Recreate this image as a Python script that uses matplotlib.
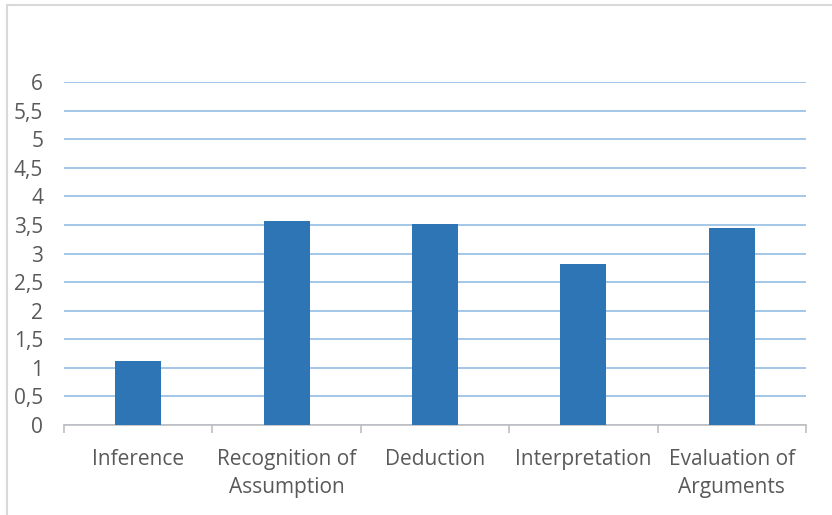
import matplotlib.pyplot as plt
from matplotlib.patches import Rectangle
from matplotlib.ticker import FuncFormatter, MultipleLocator

categories = ['Inference', 'Recognition of\nAssumption', 'Deduction', 'Interpretation', 'Evaluation of\nArguments']
scores = [1.12, 3.57, 3.52, 2.82, 3.45]

plt.rcParams['font.family'] = ['Open Sans', 'DejaVu Sans']

fig = plt.figure(figsize=(8.32, 5.15), dpi=100)
# chart border (cut off at right and bottom)
fig.patches.append(Rectangle((7 / 832, -0.1), 1.2, 1.1 - 5 / 515, transform=fig.transFigure,
                             fill=False, edgecolor='#d9d9d9', linewidth=1.5))

ax = fig.add_axes([64 / 832, 1 - 425 / 515, 742 / 832, 343 / 515])
x = range(len(categories))
ax.bar(x, scores, width=0.31, color='#2e75b6', zorder=3)

ax.set_xlim(-0.5, len(categories) - 0.5)
ax.set_ylim(0, 6)
ax.yaxis.set_major_locator(MultipleLocator(0.5))
ax.yaxis.set_major_formatter(FuncFormatter(lambda v, p: ('%g' % v).replace('.', ',')))
ax.grid(axis='y', color='#9dc3e6', linewidth=1.3, zorder=0)

for s in ['top', 'right', 'left']:
    ax.spines[s].set_visible(False)
ax.spines['bottom'].set_color('#bfbfbf')
ax.spines['bottom'].set_linewidth(1.2)

ax.set_xticks(x)
ax.set_xticklabels(categories, fontsize=15, color='#595959', linespacing=1.45)
ax.tick_params(axis='x', length=0, pad=17)
ax.set_xticks([i - 0.5 for i in range(len(categories) + 1)], minor=True)
ax.tick_params(axis='x', which='minor', length=6, color='#bfbfbf', width=1.2)
ax.tick_params(axis='y', length=0, pad=15, labelsize=15, labelcolor='#595959')

plt.savefig('out.png', dpi=100)
